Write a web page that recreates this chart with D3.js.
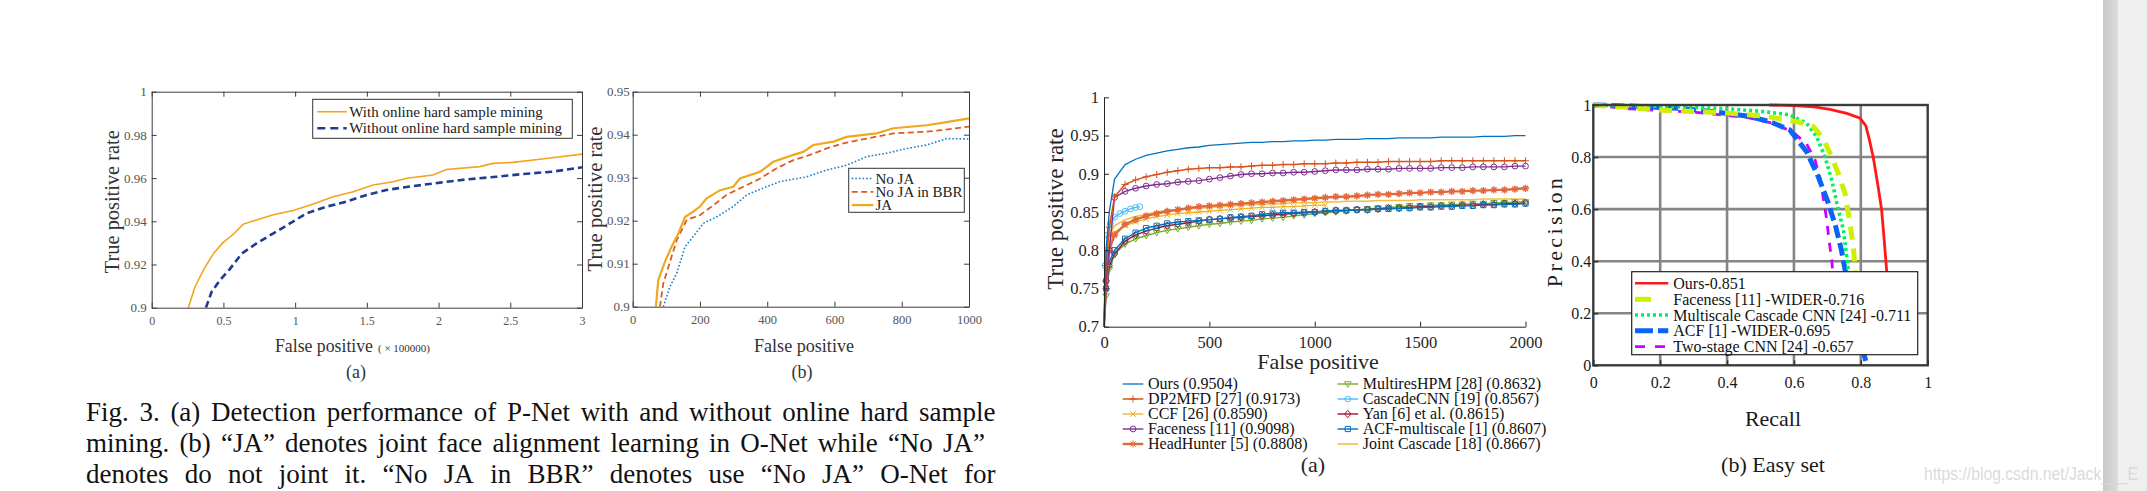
<!DOCTYPE html>
<html><head><meta charset="utf-8">
<script src="https://cdn.jsdelivr.net/npm/d3@7"></script>
<style>html,body{margin:0;padding:0;background:#fff;overflow:hidden}</style>
</head><body>
<svg id="c" width="2147" height="491" xmlns="http://www.w3.org/2000/svg"></svg>
<script>
// ---------------- DATA ----------------
// Chart (a): P-Net with / without online hard sample mining (x in 1e5 FP)
const aXTicks = [0, 0.5, 1, 1.5, 2, 2.5, 3];
const aXTickLabels = ["0", "0.5", "1", "1.5", "2", "2.5", "3"];
const aYTicks = [0.9, 0.92, 0.94, 0.96, 0.98, 1];
const aYTickLabels = ["0.9", "0.92", "0.94", "0.96", "0.98", "1"];
const aSeriesNames = ["With online hard sample mining", "Without online hard sample mining"];
const hardFP = [0.255,0.302,0.365,0.43,0.495,0.569,0.639,0.731,0.848,0.987,1.126,1.266,1.405,1.544,1.684,1.777,1.962,2.055,2.287,2.38,2.52,2.75,3.0];
const hardTPR = [0.900,0.9097,0.918,0.925,0.930,0.934,0.9387,0.9406,0.943,0.945,0.948,0.9514,0.9537,0.9568,0.9583,0.9599,0.9614,0.964,0.9653,0.9668,0.9673,0.9691,0.9711];
const noHardFP = [0.378,0.418,0.476,0.546,0.627,0.731,0.848,0.964,1.080,1.219,1.358,1.498,1.637,1.823,2.009,2.195,2.403,2.589,2.798,3.0];
const noHardTPR = [0.900,0.9074,0.9128,0.918,0.925,0.9298,0.9344,0.939,0.9437,0.9468,0.9491,0.9522,0.9545,0.9563,0.9579,0.9594,0.9606,0.9619,0.963,0.965];

// Chart (b): JA / No JA / No JA in BBR
const bXTicks = [0, 200, 400, 600, 800, 1000];
const bXTickLabels = ["0", "200", "400", "600", "800", "1000"];
const bYTicks = [0.9, 0.91, 0.92, 0.93, 0.94, 0.95];
const bYTickLabels = ["0.9", "0.91", "0.92", "0.93", "0.94", "0.95"];
const bSeriesNames = ["No JA", "No JA in BBR", "JA"];
const noJaFP = [91,111,131,156,180,210,250,299,339,398,438,517,577,636,696,755,815,874,934,1000];
const noJaTPR = [0.900,0.9047,0.9078,0.914,0.9163,0.9194,0.9209,0.9233,0.926,0.9279,0.9291,0.9302,0.9318,0.9329,0.9349,0.9357,0.9368,0.9376,0.9391,0.939];
const bbrFP = [81,91,111,131,161,200,240,279,329,379,428,478,527,577,626,676,775,874,924,1000];
const bbrTPR = [0.900,0.9054,0.9105,0.9155,0.9202,0.9213,0.9236,0.926,0.9279,0.9298,0.9322,0.9341,0.9353,0.9368,0.938,0.9388,0.9403,0.9407,0.9411,0.9419];
const jaFP = [69,76,96,116,136,156,180,200,220,260,299,319,379,418,478,507,537,597,636,725,775,874,924,1000];
const jaTPR = [0.900,0.9062,0.9105,0.914,0.9171,0.9209,0.9221,0.9233,0.9252,0.9271,0.9279,0.9298,0.9314,0.9337,0.9353,0.936,0.9376,0.9384,0.9395,0.9403,0.9415,0.9422,0.9428,0.9438];

// Chart (c): FDDB discrete ROC
const cXTicks = [0, 500, 1000, 1500, 2000];
const cXTickLabels = ["0", "500", "1000", "1500", "2000"];
const cYTicks = [0.7, 0.75, 0.8, 0.85, 0.9, 0.95, 1];
const cYTickLabels = ["0.7", "0.75", "0.8", "0.85", "0.9", "0.95", "1"];
const cFP = [0,10,25,50,100,150,200,250,300,350,400,450,500,550,600,650,700,750,800,850,900,950,1000,1050,1100,1150,1200,1250,1300,1350,1400,1450,1500,1550,1600,1650,1700,1750,1800,1850,1900,1950,2000];
const oursTPR = [0.70,0.80,0.85,0.893,0.912,0.919,0.924,0.927,0.930,0.932,0.934,0.935,0.937,0.938,0.939,0.940,0.941,0.941,0.942,0.942,0.943,0.943,0.944,0.944,0.945,0.945,0.945,0.946,0.946,0.946,0.947,0.947,0.947,0.947,0.948,0.948,0.948,0.948,0.949,0.949,0.949,0.950,0.950];
const dp2mfdTPR = [0.70,0.78,0.83,0.870,0.886,0.892,0.896,0.899,0.902,0.904,0.906,0.907,0.908,0.908,0.909,0.909,0.910,0.911,0.911,0.912,0.912,0.913,0.913,0.913,0.914,0.914,0.915,0.915,0.915,0.916,0.916,0.916,0.916,0.916,0.917,0.917,0.917,0.917,0.917,0.917,0.917,0.917,0.917];
const ccfTPR = [0.70,0.78,0.81,0.823,0.832,0.837,0.841,0.844,0.846,0.848,0.849,0.850,0.851,0.852,0.853,0.854,0.855,0.856,0.856,0.857,0.857,0.858,0.859,0.859,null,null,null,null,null,null,null,null,null,null,null,null,null,null,null,null,null,null,null];
const facenessTPR = [0.70,0.76,0.80,0.869,0.877,0.881,0.884,0.886,0.887,0.889,0.890,0.891,0.893,0.895,0.897,0.899,0.900,0.900,0.901,0.901,0.902,0.902,0.903,0.904,0.905,0.905,0.905,0.906,0.906,0.906,0.907,0.907,0.907,0.907,0.908,0.908,0.908,0.909,0.909,0.909,0.909,0.910,0.910];
const headHunterTPR = [0.70,0.76,0.80,0.820,0.834,0.840,0.845,0.848,0.851,0.853,0.855,0.857,0.858,0.859,0.860,0.861,0.862,0.863,0.864,0.865,0.866,0.867,0.868,0.869,0.870,0.870,0.871,0.872,0.873,0.873,0.874,0.875,0.875,0.876,0.876,0.877,0.877,0.878,0.878,0.879,0.879,0.880,0.881];
const multiresTPR = [0.70,0.74,0.775,0.795,0.808,0.815,0.819,0.823,0.826,0.828,0.830,0.832,0.834,0.835,0.837,0.838,0.839,0.841,0.842,0.843,0.845,0.846,0.848,0.849,0.850,0.852,0.853,0.854,0.855,0.856,0.857,0.858,0.858,0.859,0.859,0.860,0.860,0.861,0.861,0.862,0.862,0.863,0.863];
const cascadeFP = [0,5,15,30,50,75,100,125,150,170];
const cascadeTPR = [0.70,0.78,0.82,0.835,0.843,0.848,0.851,0.854,0.856,0.857];
const yanTPR = [0.70,0.75,0.78,0.795,0.812,0.820,0.825,0.829,0.832,0.834,0.836,0.838,0.840,0.841,0.842,0.843,0.844,0.845,0.846,0.847,0.848,0.849,0.850,0.851,0.852,0.852,0.853,0.853,0.854,0.855,0.855,0.856,0.857,0.857,0.858,0.858,0.859,0.859,0.860,0.860,0.861,0.861,0.862];
const acfMultiTPR = [0.70,0.75,0.785,0.800,0.815,0.823,0.829,0.832,0.835,0.837,0.838,0.839,0.840,0.841,0.843,0.844,0.845,0.847,0.848,0.849,0.849,0.850,0.850,0.851,0.852,0.852,0.853,0.853,0.854,0.854,0.855,0.855,0.856,0.856,0.857,0.857,0.858,0.858,0.859,0.859,0.860,0.860,0.861];
const jointTPR = [0.70,0.79,0.82,0.832,0.840,0.844,0.847,0.850,0.852,0.853,0.854,0.855,0.856,0.857,0.858,0.859,0.860,0.860,0.861,0.861,0.862,0.862,0.862,0.863,0.863,0.864,0.864,0.864,0.865,0.865,0.865,0.865,0.866,0.866,0.866,0.866,0.866,0.866,0.867,0.867,0.867,0.867,0.867];
const cLegendNames = ["Ours (0.9504)","DP2MFD [27] (0.9173)","CCF [26] (0.8590)","Faceness [11] (0.9098)","HeadHunter [5] (0.8808)","MultiresHPM [28] (0.8632)","CascadeCNN [19] (0.8567)","Yan [6] et al. (0.8615)","ACF-multiscale [1] (0.8607)","Joint Cascade [18] (0.8667)"];

// Chart (d): WIDER FACE easy set PR curves
const dTicks = [0, 0.2, 0.4, 0.6, 0.8, 1];
const dTickLabels = ["0", "0.2", "0.4", "0.6", "0.8", "1"];
const dLegendNames = ["Ours-0.851","Faceness [11] -WIDER-0.716","Multiscale Cascade CNN [24] -0.711","ACF [1] -WIDER-0.695","Two-stage CNN [24] -0.657"];
const prOursR = [0.526,0.6,0.66,0.708,0.758,0.798,0.815,0.825,0.837,0.85,0.862,0.87,0.877,0.882,0.886];
const prOursP = [1.0,0.998,0.993,0.983,0.968,0.949,0.92,0.87,0.8,0.7,0.6,0.48,0.367,0.25,0.1];
const prFaceR = [0,0.11,0.209,0.309,0.409,0.508,0.568,0.608,0.658,0.688,0.713,0.733,0.753,0.766,0.778,0.783,0.787,0.79];
const prFaceP = [1.0,0.99,0.98,0.975,0.968,0.958,0.945,0.936,0.917,0.871,0.80,0.736,0.659,0.557,0.454,0.365,0.28,0.2];
const prMsR = [0,0.209,0.409,0.508,0.588,0.638,0.668,0.693,0.713,0.733,0.748,0.758,0.763,0.768];
const prMsP = [1.0,0.995,0.985,0.975,0.962,0.93,0.878,0.80,0.712,0.596,0.52,0.417,0.36,0.3];
const prAcfR = [0,0.11,0.259,0.359,0.459,0.528,0.588,0.638,0.673,0.703,0.725,0.742,0.753,0.78,0.812,0.818];
const prAcfP = [1.0,0.996,0.987,0.974,0.958,0.936,0.904,0.82,0.724,0.622,0.532,0.443,0.366,0.2,0.03,0.0];
const prTwoR = [0,0.11,0.309,0.459,0.538,0.598,0.638,0.663,0.678,0.688,0.698,0.705,0.713,0.72];
const prTwoP = [1.0,0.985,0.972,0.952,0.93,0.895,0.85,0.79,0.72,0.64,0.56,0.48,0.405,0.3];

const captionLines = [
  "Fig. 3. (a) Detection performance of P-Net with and without online hard sample",
  "mining. (b) \u201CJA\u201D denotes joint face alignment learning in O-Net while \u201CNo JA\u201D",
  "denotes do not joint it. \u201CNo JA in BBR\u201D denotes use \u201CNo JA\u201D O-Net for"
];

// ---------------- DRAW ----------------
const svg = d3.select('#c');
const SERIF = '"Liberation Serif","Times New Roman",serif';
const zip = (xs, ys) => xs.map((x, i) => [x, ys[i]]);

function styleAxis(g, color, size, fill) {
  g.selectAll('path.domain').attr('stroke', color).attr('stroke-width', 1);
  g.selectAll('.tick line').attr('stroke', color);
  g.selectAll('.tick text').attr('font-family', SERIF).attr('font-size', size).attr('fill', fill);
}

// ===== Chart (a) =====
{
  const L = 151.7, R = 582, T = 91.7, B = 307.7;
  const x = d3.scaleLinear().domain([0, 3]).range([L, R]);
  const y = d3.scaleLinear().domain([0.9, 1]).range([B, T]);
  const g = svg.append('g');
  const ax = '#3a3a3a', tx = '#555';
  const fmtX = (d, i) => aXTickLabels[i];
  const fmtY = (d, i) => aYTickLabels[i];
  g.append('clipPath').attr('id', 'clipA').append('rect').attr('x', L).attr('y', T).attr('width', R - L).attr('height', B - T);
  const line = d3.line().x(d => x(d[0])).y(d => y(d[1]));
  g.append('path').attr('clip-path', 'url(#clipA)').datum(zip(hardFP, hardTPR)).attr('d', line)
    .attr('fill', 'none').attr('stroke', '#F2A51A').attr('stroke-width', 1.6);
  g.append('path').attr('clip-path', 'url(#clipA)').datum(zip(noHardFP, noHardTPR)).attr('d', line)
    .attr('fill', 'none').attr('stroke', '#1F3B94').attr('stroke-width', 2.6).attr('stroke-dasharray', '7,4');
  let a;
  a = g.append('g').attr('transform', `translate(0,${B})`).call(d3.axisBottom(x).tickValues(aXTicks).tickFormat(fmtX).tickSizeInner(-5).tickSizeOuter(0).tickPadding(9)); styleAxis(a, ax, 12, tx);
  a = g.append('g').attr('transform', `translate(0,${T})`).call(d3.axisTop(x).tickValues(aXTicks).tickFormat('').tickSizeInner(-5).tickSizeOuter(0)); styleAxis(a, ax, 12, tx);
  a = g.append('g').attr('transform', `translate(${L},0)`).call(d3.axisLeft(y).tickValues(aYTicks).tickFormat(fmtY).tickSizeInner(-5).tickSizeOuter(0).tickPadding(5)); styleAxis(a, ax, 13, tx);
  a = g.append('g').attr('transform', `translate(${R},0)`).call(d3.axisRight(y).tickValues(aYTicks).tickFormat('').tickSizeInner(-5).tickSizeOuter(0)); styleAxis(a, ax, 13, tx);
  const lg = g.append('g');
  lg.append('rect').attr('x', 312.7).attr('y', 99.3).attr('width', 259.6).attr('height', 39).attr('fill', '#fff').attr('stroke', '#333').attr('stroke-width', 1);
  const lstyles = [{c: '#F2A51A', w: 1.6, d: null}, {c: '#1F3B94', w: 2.6, d: '8,5'}];
  aSeriesNames.forEach((n, i) => {
    const yy = 111.7 + i * 16.6;
    lg.append('line').attr('x1', 317.3).attr('x2', 346.7).attr('y1', yy).attr('y2', yy).attr('stroke', lstyles[i].c).attr('stroke-width', lstyles[i].w).attr('stroke-dasharray', lstyles[i].d);
    lg.append('text').attr('x', 349.3).attr('y', yy + 5).attr('font-family', SERIF).attr('font-size', 15).attr('fill', '#222').text(n);
  });
  g.append('text').attr('transform', `translate(119,201.7) rotate(-90)`).attr('text-anchor', 'middle').attr('font-family', SERIF).attr('font-size', 21).attr('fill', '#333').attr('textLength', 143).attr('lengthAdjust', 'spacingAndGlyphs').text('True positive rate');
  const xl = g.append('text').attr('x', 275).attr('y', 352).attr('font-family', SERIF).attr('fill', '#333');
  xl.append('tspan').attr('font-size', 19).attr('textLength', 98).attr('lengthAdjust', 'spacingAndGlyphs').text('False positive');
  xl.append('tspan').attr('dx', 5).attr('font-size', 11).text('( \u00D7 100000)');
  g.append('text').attr('x', 356).attr('y', 377.5).attr('text-anchor', 'middle').attr('font-family', SERIF).attr('font-size', 18).attr('fill', '#333').text('(a)');
}

// ===== Chart (b) =====
{
  const L = 632.7, R = 969, T = 91.7, B = 306.7;
  const x = d3.scaleLinear().domain([0, 1000]).range([L, R]);
  const y = d3.scaleLinear().domain([0.9, 0.95]).range([B, T]);
  const g = svg.append('g');
  const ax = '#3a3a3a', tx = '#555';
  g.append('clipPath').attr('id', 'clipB').append('rect').attr('x', L).attr('y', T).attr('width', R - L).attr('height', B - T);
  const line = d3.line().x(d => x(d[0])).y(d => y(d[1]));
  const st = [
    {d: zip(noJaFP, noJaTPR), c: '#1A7FC9', w: 1.6, da: '1.6,2'},
    {d: zip(bbrFP, bbrTPR), c: '#DB5A26', w: 1.8, da: '6,3.5'},
    {d: zip(jaFP, jaTPR), c: '#F0A81E', w: 2.2, da: null}
  ];
  st.forEach(s => g.append('path').attr('clip-path', 'url(#clipB)').datum(s.d).attr('d', line).attr('fill', 'none').attr('stroke', s.c).attr('stroke-width', s.w).attr('stroke-dasharray', s.da));
  let a;
  a = g.append('g').attr('transform', `translate(0,${B})`).call(d3.axisBottom(x).tickValues(bXTicks).tickFormat((d, i) => bXTickLabels[i]).tickSizeInner(-5).tickSizeOuter(0).tickPadding(8)); styleAxis(a, ax, 12.5, tx);
  a = g.append('g').attr('transform', `translate(0,${T})`).call(d3.axisTop(x).tickValues(bXTicks).tickFormat('').tickSizeInner(-5).tickSizeOuter(0)); styleAxis(a, ax, 12, tx);
  a = g.append('g').attr('transform', `translate(${L},0)`).call(d3.axisLeft(y).tickValues(bYTicks).tickFormat((d, i) => bYTickLabels[i]).tickSizeInner(-5).tickSizeOuter(0).tickPadding(3)); styleAxis(a, ax, 13, tx);
  a = g.append('g').attr('transform', `translate(${R},0)`).call(d3.axisRight(y).tickValues(bYTicks).tickFormat('').tickSizeInner(-5).tickSizeOuter(0)); styleAxis(a, ax, 13, tx);
  const lg = g.append('g');
  lg.append('rect').attr('x', 848.7).attr('y', 168.3).attr('width', 115.6).attr('height', 44).attr('fill', '#fff').attr('stroke', '#333').attr('stroke-width', 1);
  bSeriesNames.forEach((n, i) => {
    const yy = 178.5 + i * 13.3;
    lg.append('line').attr('x1', 851.7).attr('x2', 873.3).attr('y1', yy).attr('y2', yy).attr('stroke', st[i].c).attr('stroke-width', st[i].w).attr('stroke-dasharray', st[i].da);
    lg.append('text').attr('x', 875.5).attr('y', yy + 5).attr('font-family', SERIF).attr('font-size', 15).attr('fill', '#222').text(n);
  });
  g.append('text').attr('transform', `translate(602,199) rotate(-90)`).attr('text-anchor', 'middle').attr('font-family', SERIF).attr('font-size', 21).attr('fill', '#333').attr('textLength', 145).attr('lengthAdjust', 'spacingAndGlyphs').text('True positive rate');
  g.append('text').attr('x', 804).attr('y', 352).attr('text-anchor', 'middle').attr('font-family', SERIF).attr('font-size', 19).attr('fill', '#333').attr('textLength', 100).attr('lengthAdjust', 'spacingAndGlyphs').text('False positive');
  g.append('text').attr('x', 802).attr('y', 377.5).attr('text-anchor', 'middle').attr('font-family', SERIF).attr('font-size', 18).attr('fill', '#333').text('(b)');
}

// ===== Chart (c) =====
const MARK = {
  plus: 'M-3.5,0H3.5M0,-3.5V3.5',
  cross: 'M-2.8,-2.8L2.8,2.8M-2.8,2.8L2.8,-2.8',
  circle: 'M2.9,0A2.9,2.9 0 1,1 -2.9,0A2.9,2.9 0 1,1 2.9,0',
  star: 'M-3.6,0H3.6M0,-3.6V3.6M-2.6,-2.6L2.6,2.6M-2.6,2.6L2.6,-2.6',
  tri: 'M-3.3,-2.3L3.3,-2.3L0,3.3Z',
  diamond: 'M0,-3.7L3.1,0L0,3.7L-3.1,0Z',
  square: 'M-2.6,-2.6H2.6V2.6H-2.6Z'
};
{
  const L = 1104, R = 1525.5, T = 97.3, B = 326.7;
  const x = d3.scaleLinear().domain([0, 2000]).range([L, R]);
  const y = d3.scaleLinear().domain([0.7, 1]).range([B, T]);
  const g = svg.append('g');
  const series = [
    {fp: cFP, t: oursTPR, c: '#0072BD', w: 1.3, m: null},
    {fp: cFP, t: dp2mfdTPR, c: '#D95319', w: 1.5, m: 'plus'},
    {fp: cFP, t: ccfTPR, c: '#EDB120', w: 1.3, m: 'cross'},
    {fp: cFP, t: facenessTPR, c: '#7E2F8E', w: 1.4, m: 'circle'},
    {fp: cFP, t: headHunterTPR, c: '#E2683C', w: 2.4, m: 'star'},
    {fp: cFP, t: multiresTPR, c: '#77AC30', w: 1.4, m: 'tri'},
    {fp: cascadeFP, t: cascadeTPR, c: '#4DBEEE', w: 1.4, m: 'circle'},
    {fp: cFP, t: yanTPR, c: '#A2142F', w: 1.4, m: 'diamond'},
    {fp: cFP, t: acfMultiTPR, c: '#0072BD', w: 1.4, m: 'square'},
    {fp: cFP, t: jointTPR, c: '#F2BE45', w: 1.6, m: null}
  ];
  const line = d3.line().defined(d => d[1] != null).x(d => x(d[0])).y(d => y(d[1]));
  const drawOrder = [9, 5, 7, 8, 2, 6, 4, 3, 1, 0];
  drawOrder.forEach(i => {
    const s = series[i];
    const pts = zip(s.fp, s.t).filter(d => d[1] != null);
    g.append('path').datum(pts).attr('d', line).attr('fill', 'none').attr('stroke', s.c).attr('stroke-width', s.w).attr('stroke-linejoin', 'round');
    if (s.m) {
      g.append('g').selectAll('path').data(pts.slice(1)).join('path')
        .attr('transform', d => `translate(${x(d[0])},${y(d[1])})`).attr('d', MARK[s.m])
        .attr('fill', 'none').attr('stroke', s.c).attr('stroke-width', s.m === 'star' ? 1.4 : 1);
    }
  });
  const ax = '#262626';
  let a;
  a = g.append('g').attr('transform', `translate(0,${B})`).call(d3.axisBottom(x).tickValues(cXTicks).tickFormat((d, i) => cXTickLabels[i]).tickSizeInner(-5).tickSizeOuter(0).tickPadding(10)); styleAxis(a, ax, 16.5, '#262626');
  a = g.append('g').attr('transform', `translate(${L},0)`).call(d3.axisLeft(y).tickValues(cYTicks).tickFormat((d, i) => cYTickLabels[i]).tickSizeInner(-5).tickSizeOuter(0).tickPadding(5)); styleAxis(a, ax, 16.5, '#262626');
  g.append('text').attr('transform', `translate(1063,209) rotate(-90)`).attr('text-anchor', 'middle').attr('font-family', SERIF).attr('font-size', 23).attr('fill', '#262626').text('True positive rate');
  g.append('text').attr('x', 1318).attr('y', 369).attr('text-anchor', 'middle').attr('font-family', SERIF).attr('font-size', 22).attr('fill', '#262626').text('False positive');
  const lg = g.append('g');
  cLegendNames.forEach((n, i) => {
    const col = i < 5 ? 0 : 1, row = i % 5;
    const x0 = col === 0 ? 1122.7 : 1337.5, yy = 384 + row * 15;
    const s = series[i];
    lg.append('line').attr('x1', x0).attr('x2', x0 + 20.6).attr('y1', yy).attr('y2', yy).attr('stroke', s.c).attr('stroke-width', s.w);
    if (s.m) lg.append('path').attr('transform', `translate(${x0 + 10.3},${yy})`).attr('d', MARK[s.m]).attr('fill', 'none').attr('stroke', s.c).attr('stroke-width', 1);
    lg.append('text').attr('x', x0 + 25.3).attr('y', yy + 5.3).attr('font-family', SERIF).attr('font-size', 16).attr('fill', '#111').text(n);
  });
  g.append('text').attr('x', 1313).attr('y', 472).attr('text-anchor', 'middle').attr('font-family', SERIF).attr('font-size', 22).attr('fill', '#262626').text('(a)');
}

// ===== Chart (d) =====
{
  const L = 1593.3, R = 1927.7, T = 105, B = 365.3;
  const x = d3.scaleLinear().domain([0, 1]).range([L, R]);
  const y = d3.scaleLinear().domain([0, 1]).range([B, T]);
  const g = svg.append('g');
  g.append('g').selectAll('line').data(dTicks.slice(1, -1)).join('line')
    .attr('x1', d => x(d)).attr('x2', d => x(d)).attr('y1', T).attr('y2', B).attr('stroke', '#858585').attr('stroke-width', 2.6);
  g.append('g').selectAll('line').data(dTicks.slice(1, -1)).join('line')
    .attr('x1', L).attr('x2', R).attr('y1', d => y(d)).attr('y2', d => y(d)).attr('stroke', '#858585').attr('stroke-width', 2.6);
  g.append('clipPath').attr('id', 'clipD').append('rect').attr('x', L).attr('y', T - 4).attr('width', R - L).attr('height', B - T + 4);
  const line = d3.line().x(d => x(d[0])).y(d => y(d[1]));
  const st = [
    {d: zip(prOursR, prOursP), c: '#FF1A1A', w: 2.8, da: null},
    {d: zip(prFaceR, prFaceP), c: '#CCF000', w: 5, da: '13,9'},
    {d: zip(prMsR, prMsP), c: '#00F060', w: 3.6, da: '3,3'},
    {d: zip(prAcfR, prAcfP), c: '#0A64F5', w: 5, da: '13,5'},
    {d: zip(prTwoR, prTwoP), c: '#CC00FF', w: 2.8, da: '9,8'}
  ];
  [4, 3, 2, 1, 0].forEach(i => {
    g.append('path').attr('clip-path', 'url(#clipD)').datum(st[i].d).attr('d', line).attr('fill', 'none')
      .attr('stroke', st[i].c).attr('stroke-width', st[i].w).attr('stroke-dasharray', st[i].da);
  });
  g.append('rect').attr('x', L).attr('y', T).attr('width', R - L).attr('height', B - T).attr('fill', 'none').attr('stroke', '#3c3c3c').attr('stroke-width', 2.4);
  let a;
  a = g.append('g').attr('transform', `translate(0,${B})`).call(d3.axisBottom(x).tickValues(dTicks).tickFormat((d, i) => dTickLabels[i]).tickSizeInner(-5).tickSizeOuter(0).tickPadding(11));
  styleAxis(a, '#333', 16, '#1a1a1a'); a.select('path.domain').remove(); a.selectAll('.tick line').attr('stroke-width', 1.5);
  a = g.append('g').attr('transform', `translate(${L},0)`).call(d3.axisLeft(y).tickValues(dTicks).tickFormat((d, i) => dTickLabels[i]).tickSizeInner(-5).tickSizeOuter(0).tickPadding(2));
  styleAxis(a, '#333', 16, '#1a1a1a'); a.select('path.domain').remove(); a.selectAll('.tick line').attr('stroke-width', 1.5);
  const lg = g.append('g');
  lg.append('rect').attr('x', 1631.7).attr('y', 271.7).attr('width', 286).attr('height', 83).attr('fill', '#fff').attr('stroke', '#222').attr('stroke-width', 1.2);
  const ys = [283.3, 299.3, 315, 330.7, 346.7];
  const ld = [null, '16,20', '3,3', '18,5', '10,10'];
  dLegendNames.forEach((n, i) => {
    lg.append('line').attr('x1', 1635).attr('x2', 1668.3).attr('y1', ys[i]).attr('y2', ys[i]).attr('stroke', st[i].c).attr('stroke-width', i === 0 ? 2.5 : st[i].w).attr('stroke-dasharray', ld[i]);
    lg.append('text').attr('x', 1673.3).attr('y', ys[i] + 5.5).attr('font-family', SERIF).attr('font-size', 16).attr('fill', '#111').text(n);
  });
  g.append('text').attr('transform', `translate(1562,231) rotate(-90)`).attr('text-anchor', 'middle').attr('font-family', SERIF).attr('font-size', 22).attr('letter-spacing', 3.4).attr('fill', '#1a1a1a').text('Precision');
  g.append('text').attr('x', 1773).attr('y', 426).attr('text-anchor', 'middle').attr('font-family', SERIF).attr('font-size', 22).attr('fill', '#1a1a1a').text('Recall');
  g.append('text').attr('x', 1773).attr('y', 472).attr('text-anchor', 'middle').attr('font-family', SERIF).attr('font-size', 22).attr('fill', '#1a1a1a').text('(b) Easy set');
}

// ===== Caption (justified) =====
function justifyLine(str, x0, x1, y, size) {
  const g = svg.append('g').attr('font-family', SERIF).attr('font-size', size).attr('fill', '#111');
  const words = str.split(' ');
  const nodes = words.map(w => g.append('text').attr('y', y).text(w));
  const widths = nodes.map(n => n.node().getComputedTextLength());
  const total = d3.sum(widths);
  let gap = (x1 - x0 - total) / (words.length - 1);
  let scale = 1;
  const minGap = size * 0.22;
  if (gap < minGap) { gap = minGap; scale = (x1 - x0) / (total + gap * (words.length - 1)); }
  let x = 0;
  nodes.forEach((n, i) => { n.attr('x', x); x += widths[i] + gap; });
  g.attr('transform', `translate(${x0},0) scale(${scale},1)`);
}
justifyLine(captionLines[0], 86, 995.5, 421, 27);
justifyLine(captionLines[1], 86, 985, 452, 27);
justifyLine(captionLines[2], 86, 995.5, 483, 27);

// ===== Browser scrollbar & watermark =====
const defs = svg.append('defs');
const grad = defs.append('linearGradient').attr('id', 'sbg').attr('x1', 0).attr('x2', 1).attr('y1', 0).attr('y2', 0);
grad.append('stop').attr('offset', 0).attr('stop-color', '#c9c9c9');
grad.append('stop').attr('offset', 1).attr('stop-color', '#dcdcdc');
svg.append('rect').attr('x', 2103).attr('y', 0).attr('width', 15.3).attr('height', 491).attr('fill', 'url(#sbg)');
svg.append('rect').attr('x', 2118.3).attr('y', 0).attr('width', 28.7).attr('height', 491).attr('fill', '#efefef');
svg.append('text').attr('x', 1924).attr('y', 480).attr('font-family', '"Liberation Sans",Arial,sans-serif').attr('font-size', 18)
  .attr('fill', '#d6d6d6').attr('fill-opacity', 0.9).attr('textLength', 214).attr('lengthAdjust', 'spacingAndGlyphs').text('https://blog.csdn.net/Jack___E');
</script>
</body></html>
